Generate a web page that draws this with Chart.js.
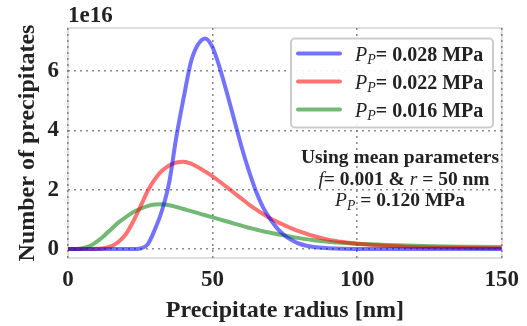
<!DOCTYPE html>
<html>
<head>
<meta charset="utf-8">
<script src="https://cdn.jsdelivr.net/npm/chart.js@4.4.1/dist/chart.umd.min.js"></script>
<style>
  html, body { margin: 0; padding: 0; background: #fff; }
  #wrap { position: relative; width: 527px; height: 326px; }
</style>
</head>
<body>
<div id="wrap"><canvas id="chart"></canvas></div>
<script>
// radius grid [nm] shared by the three size distributions
const radius = [0, 2.5, 5, 7.5, 10, 12.5, 15, 17.5, 20, 22.5, 25, 27.5, 30, 32.5, 35, 37.5, 40,
  42.5, 45, 47.5, 50, 52.5, 55, 57.5, 60, 62.5, 65, 67.5, 70, 72.5, 75, 77.5, 80,
  85, 90, 95, 100, 110, 120, 130, 140, 150];

// number of precipitates, in units of 1e16
const pp028 = [0, 0, 0, 0, 0, 0, 0, 0, 0, 0, 0.02, 0.15, 0.65, 1.3, 2.25, 3.8, 5.1,
  6.3, 6.9, 7.1, 6.8, 6.1, 5.25, 4.35, 3.45, 2.65, 1.95, 1.4, 1.0, 0.68, 0.45, 0.3, 0.18,
  0.07, 0.03, 0.01, 0.005, 0, 0, 0, 0, 0];
const pp022 = [0, 0, 0, 0, 0.01, 0.03, 0.1, 0.25, 0.5, 0.92, 1.42, 1.95, 2.35, 2.64, 2.82, 2.92, 2.94,
  2.88, 2.76, 2.61, 2.45, 2.27, 2.08, 1.89, 1.7, 1.51, 1.34, 1.18, 1.03, 0.91, 0.8, 0.69, 0.6,
  0.44, 0.32, 0.24, 0.18, 0.11, 0.07, 0.05, 0.04, 0.03];
const pp016 = [0, 0.005, 0.03, 0.1, 0.25, 0.45, 0.68, 0.9, 1.08, 1.24, 1.36, 1.45, 1.5, 1.51, 1.48, 1.42, 1.35,
  1.28, 1.21, 1.14, 1.07, 1.0, 0.93, 0.86, 0.79, 0.72, 0.66, 0.6, 0.55, 0.5, 0.46, 0.41, 0.37,
  0.3, 0.25, 0.21, 0.18, 0.14, 0.11, 0.09, 0.08, 0.07];

const seriesValues = ['0.028', '0.022', '0.016'];
const seriesColors = ['rgba(0, 0, 255, 0.55)', 'rgba(255, 0, 0, 0.55)', 'rgba(0, 128, 0, 0.55)'];

const xTickValues = [0, 50, 100, 150];
const yTickValues = [0, 2, 4, 6];

const SERIF = '"Liberation Serif", "Times New Roman", "DejaVu Serif", serif';
const INK = '#222';

const toPoints = (vals) => radius.map((r, i) => ({ x: r, y: vals[i] }));

// draws a run of mixed-style text (bold / italic / subscript) the way mathtext would
function drawRuns(ctx, runs, x, baseline, align) {
    const fontOf = (r) => `${r.italic ? 'italic ' : ''}${r.bold ? 'bold ' : ''}${r.size}px ${SERIF}`;
    let total = 0;
    runs.forEach(r => { ctx.font = fontOf(r); total += ctx.measureText(r.text).width; });
    let cx = align === 'center' ? x - total / 2 : x;
    ctx.textAlign = 'left';
    ctx.textBaseline = 'alphabetic';
    runs.forEach(r => {
        ctx.font = fontOf(r);
        ctx.fillText(r.text, cx, baseline + (r.dy || 0));
        cx += ctx.measureText(r.text).width;
    });
}

const ppRuns = (size, rest) => [
    { text: 'P', italic: true, size: size },
    { text: 'P', italic: true, size: size * 0.7, dy: 3.5 },
    { text: rest, bold: true, size: size }
];

const decorations = {
    id: 'decorations',
    beforeDraw(chart) {
        const { ctx, chartArea: a } = chart;
        ctx.save();
        ctx.strokeStyle = '#dedede';
        ctx.lineWidth = 2;
        ctx.strokeRect(a.left, a.top, a.right - a.left, a.bottom - a.top);
        ctx.restore();
    },
    afterDraw(chart) {
        const { ctx } = chart;
        ctx.save();
        ctx.fillStyle = INK;
        ctx.font = `bold 23px ${SERIF}`;
        ctx.textAlign = 'left';
        ctx.textBaseline = 'alphabetic';
        ctx.fillText('1e16', 68, 22);

        // legend
        ctx.beginPath();
        ctx.roundRect(291, 38.5, 202, 89, 4);
        ctx.fillStyle = 'rgba(255,255,255,0.9)';
        ctx.fill();
        ctx.strokeStyle = '#cccccc';
        ctx.lineWidth = 2;
        ctx.stroke();
        seriesValues.forEach((v, i) => {
            const y = 53.5 + i * 28;
            ctx.beginPath();
            ctx.moveTo(298, y);
            ctx.lineTo(340, y);
            ctx.strokeStyle = seriesColors[i];
            ctx.lineWidth = 4;
            ctx.lineCap = 'round';
            ctx.stroke();
            ctx.fillStyle = INK;
            drawRuns(ctx, ppRuns(20, '= ' + v + ' MPa'), 355, y + 7, 'left');
        });

        // note
        ctx.fillStyle = INK;
        drawRuns(ctx, [{ text: 'Using mean parameters', bold: true, size: 19.5 }], 400, 163, 'center');
        drawRuns(ctx, [
            { text: 'f', italic: true, size: 19.5 },
            { text: '= 0.001 & ', bold: true, size: 19.5 },
            { text: 'r', italic: true, size: 19.5 },
            { text: ' = 50 nm', bold: true, size: 19.5 }
        ], 404, 185, 'center');
        drawRuns(ctx, ppRuns(19.5, ' = 0.120 MPa'), 400, 206, 'center');
        ctx.restore();
    }
};

const gridStyle = {
    color: 'rgba(120,120,120,0.85)',
    lineWidth: 1.6,
    drawTicks: false
};

new Chart(document.getElementById('chart'), {
    type: 'line',
    data: {
        datasets: [pp028, pp022, pp016].map((vals, i) => ({
            label: seriesValues[i],
            data: toPoints(vals),
            borderColor: seriesColors[i],
            borderWidth: 4,
            borderJoinStyle: 'round',
            pointRadius: 0,
            fill: false,
            cubicInterpolationMode: 'monotone'
        }))
    },
    options: {
        responsive: true,
        maintainAspectRatio: false,
        animation: false,
        layout: { padding: { top: 28, right: 24, left: 0, bottom: 0 } },
        plugins: { legend: { display: false }, tooltip: { enabled: false } },
        scales: {
            x: {
                type: 'linear',
                min: 0,
                max: 150,
                afterFit: (s) => { s.height = 68; },
                afterBuildTicks: (s) => { s.ticks = xTickValues.map(v => ({ value: v })); },
                grid: gridStyle,
                border: { display: false, dash: [2, 4] },
                ticks: { color: INK, font: { family: SERIF, size: 23, weight: 'bold' }, padding: 8, maxRotation: 0 },
                title: {
                    display: true,
                    text: 'Precipitate radius [nm]',
                    color: INK,
                    font: { family: SERIF, size: 24, weight: 'bold' },
                    padding: { top: 0, bottom: 1 }
                }
            },
            y: {
                type: 'linear',
                min: -0.3,
                max: 7.45,
                afterFit: (s) => { s.width = 68; },
                afterBuildTicks: (s) => { s.ticks = yTickValues.map(v => ({ value: v })); },
                grid: gridStyle,
                border: { display: false, dash: [2, 4] },
                ticks: { color: INK, font: { family: SERIF, size: 23, weight: 'bold' }, padding: 9 },
                title: {
                    display: true,
                    text: 'Number of precipitates',
                    color: INK,
                    font: { family: SERIF, size: 24, weight: 'bold' },
                    padding: { top: 13, bottom: 0 }
                }
            }
        }
    },
    plugins: [decorations]
});
</script>
</body>
</html>
